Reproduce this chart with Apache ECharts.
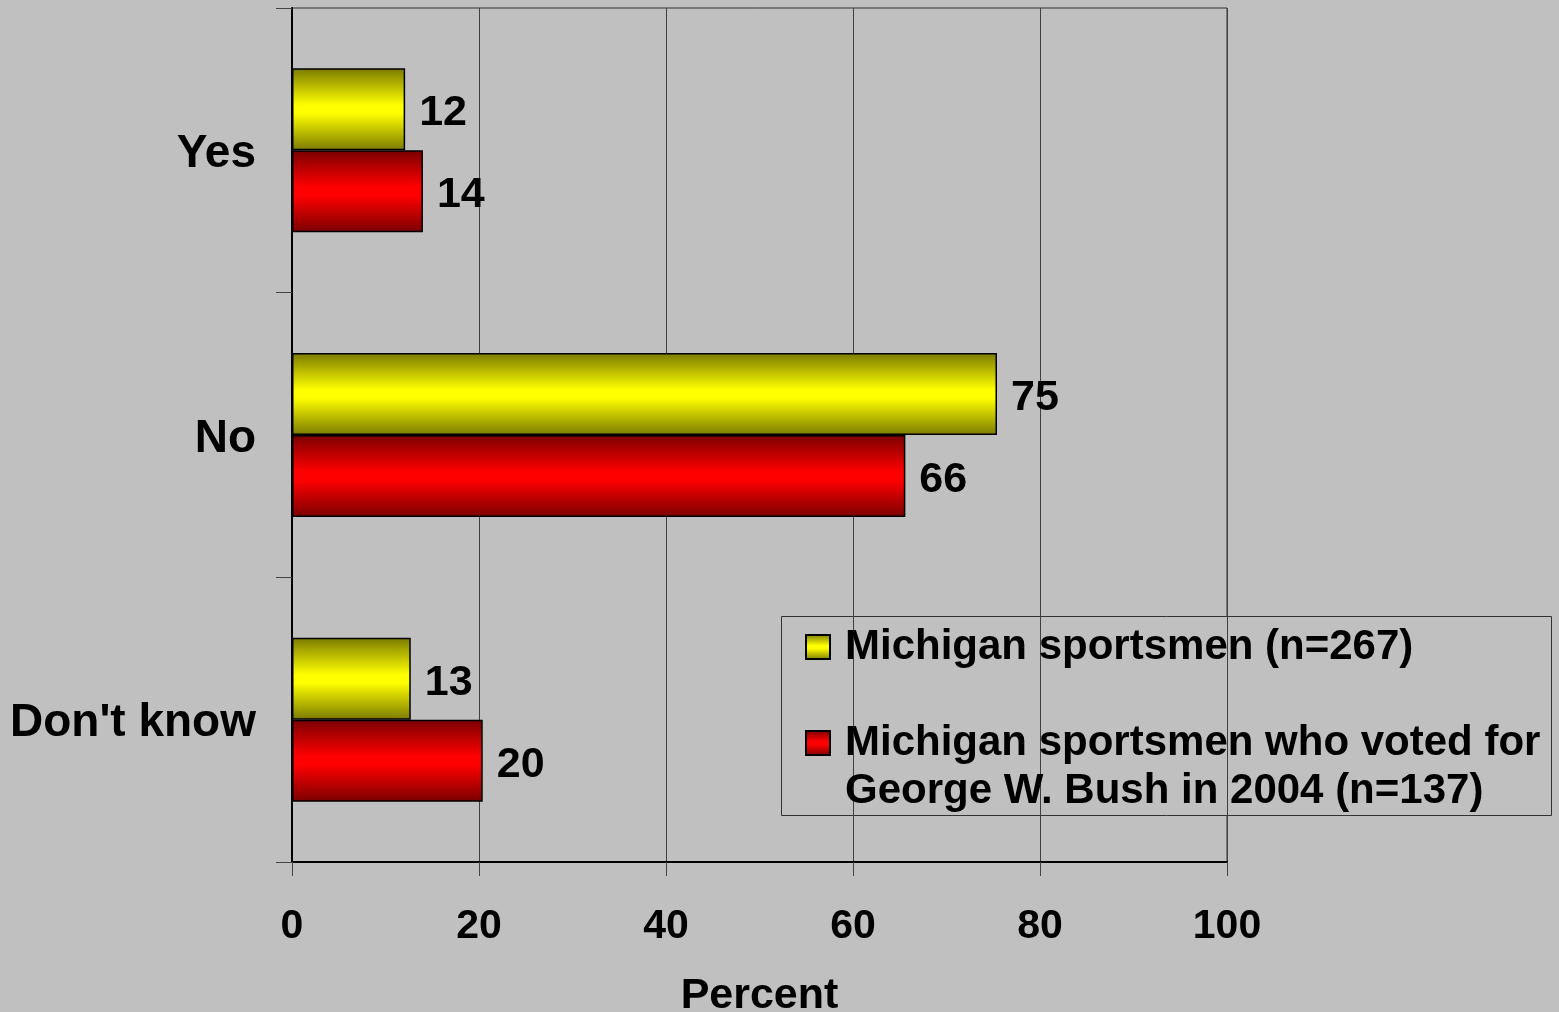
<!DOCTYPE html>
<html>
<head>
<meta charset="utf-8">
<script src="https://cdn.jsdelivr.net/npm/echarts@6/dist/echarts.min.js"></script>
<style>
html,body{margin:0;padding:0;background:#c0c0c0;}
#chart{width:1559px;height:1012px;}
</style>
</head>
<body>
<div id="chart"></div>
<script>
var categories = ["Yes", "No", "Don't know"];
var seriesNames = ["Michigan sportsmen (n=267)", "Michigan sportsmen who voted for\nGeorge W. Bush in 2004 (n=137)"];
var sportsmenAll = [12.1, 75.4, 12.7];
var sportsmenBush = [14.0, 65.6, 20.4];
var xMin = 0, xMax = 100, xStep = 20;
var axisTitle = "Percent";

var FONT = '"Liberation Sans", Arial, sans-serif';
function grad(dark, bright) {
  return new echarts.graphic.LinearGradient(0, 0, 0, 1, [
    {offset: 0, color: dark},
    {offset: 0.45, color: bright},
    {offset: 0.55, color: bright},
    {offset: 1, color: dark}
  ]);
}
var yellow = grad('#7a7a00', '#ffff00');
var red = grad('#7a0000', '#ff0000');

var labelCfg = {
  show: true, position: 'right', distance: 14, offset: [0, 4],
  color: '#000', fontFamily: FONT, fontWeight: 'bold', fontSize: 43,
  formatter: function (p) { return Math.round(p.value); }
};
var legendText = {color: '#000', fontFamily: FONT, fontWeight: 'bold', fontSize: 42, lineHeight: 48, padding: [0, 0, 0, 10]};

var chart = echarts.init(document.getElementById('chart'), null, {renderer: 'canvas'});
chart.setOption({
  backgroundColor: '#c0c0c0',
  animation: false,
  grid: {left: 292, right: 332, top: 8, bottom: 150, show: true, borderColor: '#333', borderWidth: 1,
         containLabel: false, outerBoundsMode: 'none'},
  xAxis: {
    type: 'value', min: xMin, max: xMax, interval: xStep,
    name: axisTitle, nameLocation: 'middle', nameGap: 113,
    nameTextStyle: {color: '#000', fontFamily: FONT, fontWeight: 'bold', fontSize: 43},
    axisLine: {show: true, lineStyle: {color: '#000', width: 2}},
    axisTick: {show: true, length: 14, lineStyle: {color: '#444', width: 1}},
    axisLabel: {color: '#000', fontFamily: FONT, fontWeight: 'bold', fontSize: 41, margin: 44},
    splitLine: {show: true, lineStyle: {color: '#404040', width: 1}}
  },
  yAxis: {
    type: 'category', data: categories, inverse: true,
    axisLine: {show: true, lineStyle: {color: '#000', width: 2}},
    axisTick: {show: true, length: 16, lineStyle: {color: '#444', width: 1}},
    axisLabel: {color: '#000', fontFamily: FONT, fontWeight: 'bold', fontSize: 46, margin: 36,
                verticalAlign: 'top', lineHeight: 8},
    splitLine: {show: false}
  },
  legend: [{
    orient: 'vertical', left: 805, top: 623, padding: 0, icon: 'rect',
    itemWidth: 24, itemHeight: 24,
    data: [seriesNames[0]],
    textStyle: legendText
  }, {
    orient: 'vertical', left: 805, top: 671, padding: 0, icon: 'rect',
    itemWidth: 24, itemHeight: 24,
    data: [seriesNames[1]],
    formatter: function (name) { return '\u00a0\n' + name; },
    textStyle: legendText
  }],
  graphic: [{
    type: 'rect', left: 781, top: 616, z: 0,
    shape: {width: 770, height: 199},
    style: {fill: '#c0c0c0', stroke: '#333', lineWidth: 1}
  }],
  series: [{
    name: seriesNames[0], type: 'bar', data: sportsmenAll,
    barWidth: 82, barGap: '0%',
    itemStyle: {color: yellow, borderColor: '#000', borderWidth: 1.5},
    label: labelCfg
  }, {
    name: seriesNames[1], type: 'bar', data: sportsmenBush,
    barWidth: 82, barGap: '0%',
    itemStyle: {color: red, borderColor: '#000', borderWidth: 1.5},
    label: labelCfg
  }]
});
</script>
</body>
</html>
